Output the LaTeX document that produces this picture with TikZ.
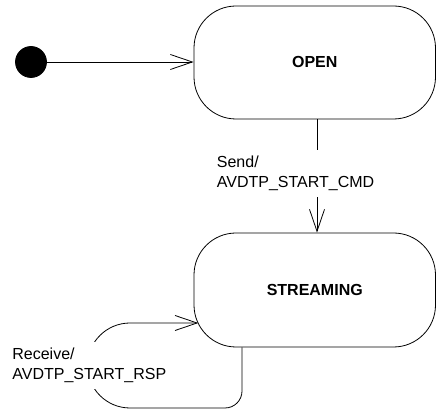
\documentclass[tikz,border=0pt]{standalone}
\usepackage{fontspec}
\setmainfont{Liberation Sans}
\usetikzlibrary{arrows.meta}
\begin{document}
\begin{tikzpicture}[x=1pt,y=1pt,
  line width=0.8pt,
  statebox/.style={draw, rounded corners=42pt, minimum width=241.5pt,
    font=\fontsize{16}{19.5}\selectfont\bfseries, inner sep=0pt},
  initdot/.style={circle, fill=black, draw=black, minimum size=31pt, inner sep=0pt},
  trlabel/.style={anchor=north west, align=left, fill=white, inner xsep=1.5pt,
    inner ysep=6pt, font=\fontsize{16}{19.5}\selectfont},
  arr/.style={-{Straight Barb[length=22pt,width=15pt]}}]
\useasboundingbox (0,0) rectangle (436,411);
\node[statebox, minimum height=113pt] (open) at (314.75,348.5) {OPEN};
\node[statebox, minimum height=114pt] (streaming) at (314.75,121) {STREAMING};
\node[initdot] (init) at (31,349) {};
\coordinate (vx) at (317,0);
\coordinate (lx) at (242,0);
\coordinate (loopend) at (198.3,88);
% initial transition
\draw[arr] (init) -- (init -| open.west);
% OPEN -> STREAMING
\draw[arr] (open.south -| vx) -- (streaming.north -| vx);
\node[trlabel] (sendlbl) at (215,261) {Send/\\AVDTP\_START\_CMD};
% self loop on STREAMING
\draw[arr] (streaming.south -| lx) -- (242,20)
  arc[start angle=0, end angle=-90, radius=17] -- (130,3)
  arc[start angle=-90, end angle=-270, radius=42.5] -- (loopend);
\node[trlabel] (rcvlbl) at (10.5,69) {Receive/\\AVDTP\_START\_RSP};
\end{tikzpicture}
\end{document}
